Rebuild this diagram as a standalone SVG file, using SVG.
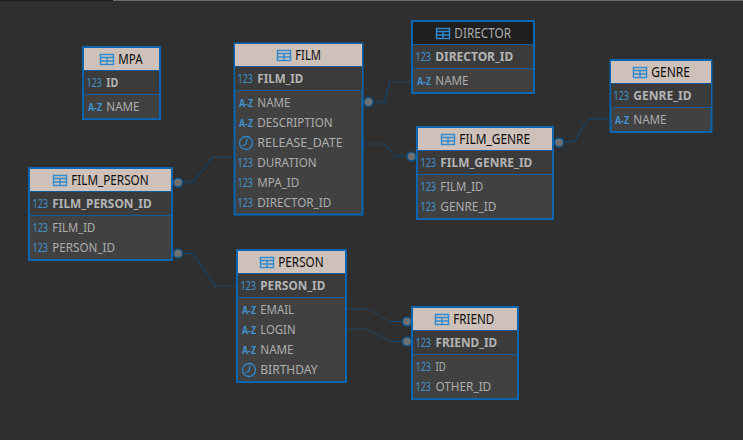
<svg xmlns="http://www.w3.org/2000/svg" width="743" height="440" viewBox="0 0 743 440">
<style>
text{font-family:"Noto Sans","Open Sans","DejaVu Sans",sans-serif;font-size:13px;fill:#adadad}
.box{fill:#414141;stroke:#0a66b0;stroke-width:2}
.pk{fill:#3b3b3b}
.hd{fill:#cdc1b9}
.hd2{fill:#1f1f1f}
.sep{stroke:#0a5c9e;stroke-width:1;fill:none}
.t{fill:#0c0c0c;font-size:13.500px}
.t2{fill:#aaa;font-size:13.500px}
.b{font-weight:700;font-size:13px;fill:#b4b4b4}
.n{fill:#3f92cf;font-size:12.500px}
.a{fill:#3f92cf;font-size:10.500px;font-weight:700}
.ln{fill:none;stroke:#0b4a7c;stroke-width:1}
.dt{fill:none;stroke:#0c5a98;stroke-width:1;stroke-dasharray:1 1}
.dot{fill:#707070;stroke:#0b5288;stroke-width:1.500}
.ic{fill:none;stroke:#2f8ad0;stroke-width:1.300}
</style>
<defs>
<g id="tb"><rect x="0.500" y="0.500" width="13" height="10" fill="none" stroke="#2f8ad0" stroke-width="1.400"/><path d="M0.500 3.500H13.500M0.500 7H13.500M7 3.500V10.500" stroke="#2f8ad0" stroke-width="1.400" fill="none"/></g>
<g id="ck"><circle cx="7" cy="7" r="6.500" class="ic"/><path d="M8 3L7 8L3.500 10" class="ic"/></g>
</defs>
<rect width="743" height="440" fill="#2f2f2f"/>
<rect x="113" y="0" width="630" height="1" fill="#6a6a6a"/>
<rect x="0" y="0" width="113" height="1" fill="#1c1c1c"/>

<g id="connectors">
<path class="ln" d="M369 102H384.500L390 82"/><path class="dt" d="M390 82H411"/>
<path class="dt" d="M364 144H384"/><path class="ln" d="M384 144L395 156H411"/>
<path class="ln" d="M559 142H574.500L588 119H609"/>
<path class="ln" d="M178 182H193L213 157"/><path class="dt" d="M213 157H233"/>
<path class="ln" d="M178 253.500H193L215 286"/><path class="dt" d="M215 286H236"/>
<path class="dt" d="M347 309H367L390 321.500"/><path class="ln" d="M390 321.500H407"/>
<path class="dt" d="M347 329H367L390 341.500"/><path class="ln" d="M390 341.500H407"/>
<circle class="dot" cx="368.500" cy="102" r="4.500"/>
<circle class="dot" cx="411.500" cy="156.500" r="4.500"/>
<circle class="dot" cx="559" cy="142.500" r="4.500"/>
<circle class="dot" cx="178" cy="182.500" r="4.500"/>
<circle class="dot" cx="178" cy="253.500" r="4.500"/>
<circle class="dot" cx="407" cy="321.500" r="4.500"/>
<circle class="dot" cx="407" cy="341.500" r="4.500"/>
</g>

<g id="MPA">
<rect class="box" x="83" y="47" width="77" height="72"/>
<rect class="hd" x="84" y="48" width="75" height="22"/>
<rect class="pk" x="84" y="71" width="75" height="23"/>
<path class="sep" d="M84 70.500H159M84 94.500H159"/>
<use href="#tb" x="100" y="54"/><text class="t" x="118.300" y="63.500" textLength="24.300" lengthAdjust="spacingAndGlyphs">MPA</text>
<text class="n" x="86.500" y="87" textLength="15.500" lengthAdjust="spacingAndGlyphs">123</text><text class="b" x="106.300" y="87" textLength="12" lengthAdjust="spacingAndGlyphs">ID</text>
<text class="a" x="88" y="111" textLength="14" lengthAdjust="spacingAndGlyphs">A-Z</text><text x="106.300" y="111" textLength="33.300" lengthAdjust="spacingAndGlyphs">NAME</text>
</g>

<g id="FILM">
<rect class="box" x="234.500" y="43.500" width="128" height="171"/>
<rect class="hd" x="235" y="44" width="127" height="22"/>
<rect class="pk" x="235" y="67" width="127" height="23"/>
<path class="sep" d="M235 66.500H362M235 90.500H362"/>
<use href="#tb" x="277" y="50"/><text class="t" x="295.300" y="59.500" textLength="25.700" lengthAdjust="spacingAndGlyphs">FILM</text>
<text class="n" x="237.500" y="83" textLength="15.500" lengthAdjust="spacingAndGlyphs">123</text><text class="b" x="257.300" y="83" textLength="46" lengthAdjust="spacingAndGlyphs">FILM_ID</text>
<text class="a" x="239" y="107" textLength="14" lengthAdjust="spacingAndGlyphs">A-Z</text><text x="257.300" y="107" textLength="33.300" lengthAdjust="spacingAndGlyphs">NAME</text>
<text class="a" x="239" y="127" textLength="14" lengthAdjust="spacingAndGlyphs">A-Z</text><text x="257.300" y="127" textLength="75.300" lengthAdjust="spacingAndGlyphs">DESCRIPTION</text>
<use href="#ck" x="239" y="136"/><text x="257.300" y="147" textLength="85.300" lengthAdjust="spacingAndGlyphs">RELEASE_DATE</text>
<text class="n" x="237.500" y="167" textLength="15.500" lengthAdjust="spacingAndGlyphs">123</text><text x="257.300" y="167" textLength="59.300" lengthAdjust="spacingAndGlyphs">DURATION</text>
<text class="n" x="237.500" y="187" textLength="15.500" lengthAdjust="spacingAndGlyphs">123</text><text x="257.300" y="187" textLength="42" lengthAdjust="spacingAndGlyphs">MPA_ID</text>
<text class="n" x="237.500" y="207" textLength="15.500" lengthAdjust="spacingAndGlyphs">123</text><text x="257.300" y="207" textLength="74" lengthAdjust="spacingAndGlyphs">DIRECTOR_ID</text>
</g>

<g id="DIRECTOR">
<rect class="box" x="412" y="21" width="122" height="72"/>
<rect class="hd2" x="413" y="22" width="120" height="22"/>
<rect class="pk" x="413" y="45" width="120" height="23"/>
<path class="sep" d="M413 44.500H533M413 68.500H533"/>
<use href="#tb" x="436" y="28"/><text class="t2" x="454.300" y="37.500" textLength="56.700" lengthAdjust="spacingAndGlyphs">DIRECTOR</text>
<text class="n" x="415.500" y="61" textLength="15.500" lengthAdjust="spacingAndGlyphs">123</text><text class="b" x="435.300" y="61" textLength="78" lengthAdjust="spacingAndGlyphs">DIRECTOR_ID</text>
<text class="a" x="417" y="85" textLength="14" lengthAdjust="spacingAndGlyphs">A-Z</text><text x="435.300" y="85" textLength="33.300" lengthAdjust="spacingAndGlyphs">NAME</text>
</g>

<g id="GENRE">
<rect class="box" x="610.500" y="60" width="101" height="72"/>
<rect class="hd" x="611" y="61" width="100" height="22"/>
<rect class="pk" x="611" y="84" width="100" height="23"/>
<path class="sep" d="M611 83.500H711M611 107.500H711"/>
<use href="#tb" x="633" y="67"/><text class="t" x="651.300" y="76.500" textLength="38.700" lengthAdjust="spacingAndGlyphs">GENRE</text>
<text class="n" x="613.500" y="100" textLength="15.500" lengthAdjust="spacingAndGlyphs">123</text><text class="b" x="633.300" y="100" textLength="58.300" lengthAdjust="spacingAndGlyphs">GENRE_ID</text>
<text class="a" x="615" y="124" textLength="14" lengthAdjust="spacingAndGlyphs">A-Z</text><text x="633.300" y="124" textLength="33.300" lengthAdjust="spacingAndGlyphs">NAME</text>
</g>

<g id="FILM_GENRE">
<rect class="box" x="417" y="127" width="136" height="92"/>
<rect class="hd" x="418" y="128" width="134" height="22"/>
<rect class="pk" x="418" y="151" width="134" height="23"/>
<path class="sep" d="M418 150.500H552M418 174.500H552"/>
<use href="#tb" x="441" y="134"/><text class="t" x="459.300" y="143.500" textLength="70.700" lengthAdjust="spacingAndGlyphs">FILM_GENRE</text>
<text class="n" x="420.500" y="167" textLength="15.500" lengthAdjust="spacingAndGlyphs">123</text><text class="b" x="440.300" y="167" textLength="92" lengthAdjust="spacingAndGlyphs">FILM_GENRE_ID</text>
<text class="n" x="420.500" y="191" textLength="15.500" lengthAdjust="spacingAndGlyphs">123</text><text x="440.300" y="191" textLength="43" lengthAdjust="spacingAndGlyphs">FILM_ID</text>
<text class="n" x="420.500" y="211" textLength="15.500" lengthAdjust="spacingAndGlyphs">123</text><text x="440.300" y="211" textLength="56" lengthAdjust="spacingAndGlyphs">GENRE_ID</text>
</g>

<g id="FILM_PERSON">
<rect class="box" x="29" y="168" width="143" height="92"/>
<rect class="hd" x="30" y="169" width="141" height="22"/>
<rect class="pk" x="30" y="192" width="141" height="23"/>
<path class="sep" d="M30 191.500H171M30 215.500H171"/>
<use href="#tb" x="53" y="175"/><text class="t" x="71.300" y="184.500" textLength="77.300" lengthAdjust="spacingAndGlyphs">FILM_PERSON</text>
<text class="n" x="32.500" y="208" textLength="15.500" lengthAdjust="spacingAndGlyphs">123</text><text class="b" x="52.300" y="208" textLength="99.300" lengthAdjust="spacingAndGlyphs">FILM_PERSON_ID</text>
<text class="n" x="32.500" y="232" textLength="15.500" lengthAdjust="spacingAndGlyphs">123</text><text x="52.300" y="232" textLength="43" lengthAdjust="spacingAndGlyphs">FILM_ID</text>
<text class="n" x="32.500" y="252" textLength="15.500" lengthAdjust="spacingAndGlyphs">123</text><text x="52.300" y="252" textLength="62.700" lengthAdjust="spacingAndGlyphs">PERSON_ID</text>
</g>

<g id="PERSON">
<rect class="box" x="237" y="250" width="109" height="132"/>
<rect class="hd" x="238" y="251" width="107" height="22"/>
<rect class="pk" x="238" y="274" width="107" height="23"/>
<path class="sep" d="M238 273.500H345M238 297.500H345"/>
<use href="#tb" x="260" y="257"/><text class="t" x="278.300" y="266.500" textLength="45.300" lengthAdjust="spacingAndGlyphs">PERSON</text>
<text class="n" x="240.500" y="290" textLength="15.500" lengthAdjust="spacingAndGlyphs">123</text><text class="b" x="260.300" y="290" textLength="65" lengthAdjust="spacingAndGlyphs">PERSON_ID</text>
<text class="a" x="242" y="314" textLength="14" lengthAdjust="spacingAndGlyphs">A-Z</text><text x="260.300" y="314" textLength="33.700" lengthAdjust="spacingAndGlyphs">EMAIL</text>
<text class="a" x="242" y="334" textLength="14" lengthAdjust="spacingAndGlyphs">A-Z</text><text x="260.300" y="334" textLength="35.300" lengthAdjust="spacingAndGlyphs">LOGIN</text>
<text class="a" x="242" y="354" textLength="14" lengthAdjust="spacingAndGlyphs">A-Z</text><text x="260.300" y="354" textLength="33.300" lengthAdjust="spacingAndGlyphs">NAME</text>
<use href="#ck" x="242" y="363"/><text x="260.300" y="374" textLength="57.300" lengthAdjust="spacingAndGlyphs">BIRTHDAY</text>
</g>

<g id="FRIEND">
<rect class="box" x="412" y="307" width="106" height="92"/>
<rect class="hd" x="413" y="308" width="104" height="22"/>
<rect class="pk" x="413" y="331" width="104" height="23"/>
<path class="sep" d="M413 330.500H517M413 354.500H517"/>
<use href="#tb" x="435" y="314"/><text class="t" x="453.300" y="323.500" textLength="41" lengthAdjust="spacingAndGlyphs">FRIEND</text>
<text class="n" x="415.500" y="347" textLength="15.500" lengthAdjust="spacingAndGlyphs">123</text><text class="b" x="435.500" y="347" textLength="61.700" lengthAdjust="spacingAndGlyphs">FRIEND_ID</text>
<text class="n" x="415.500" y="371" textLength="15.500" lengthAdjust="spacingAndGlyphs">123</text><text x="435.500" y="371" textLength="10.300" lengthAdjust="spacingAndGlyphs">ID</text>
<text class="n" x="415.500" y="391" textLength="15.500" lengthAdjust="spacingAndGlyphs">123</text><text x="435.500" y="391" textLength="55.700" lengthAdjust="spacingAndGlyphs">OTHER_ID</text>
</g>
</svg>
